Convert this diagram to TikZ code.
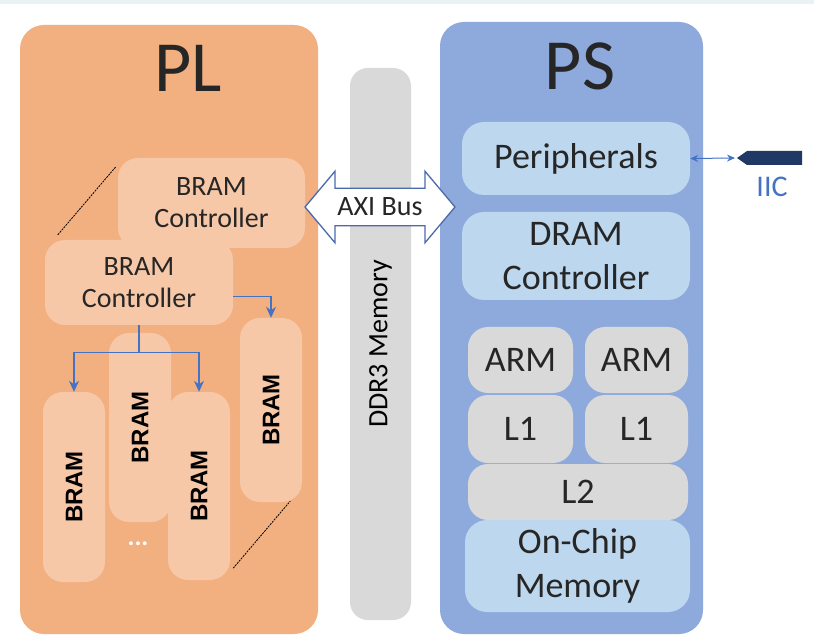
\documentclass[tikz,border=0pt]{standalone}
\usepackage{fontspec}
\setmainfont{Carlito}
\newfontfamily\bramfont{Liberation Sans}
\usetikzlibrary{arrows}
\usetikzlibrary{arrows.meta}
\usetikzlibrary{shapes.arrows}

\definecolor{plfill}{HTML}{F2AF80}
\definecolor{psfill}{HTML}{8EA9DB}
\definecolor{blockfill}{HTML}{F7C8A8}
\definecolor{memfill}{HTML}{BDD7EE}
\definecolor{cpufill}{HTML}{D9D9D9}
\definecolor{linkblue}{HTML}{4472C4}
\definecolor{busblue}{HTML}{4A6AAB}
\definecolor{iicnavy}{HTML}{203864}
\definecolor{topstrip}{HTML}{E9F3F3}

\begin{document}
\begin{tikzpicture}[x=1pt,y=-1pt,
  region/.style={rounded corners=24pt,inner sep=0},
  block/.style={fill=blockfill,rounded corners=20pt,inner sep=0,align=center,font=\fontsize{28}{32}\selectfont,text=black!85},
  bram/.style={fill=blockfill,rounded corners=20pt,inner sep=0,minimum width=62pt,font=\bramfont\bfseries\fontsize{24}{26}\selectfont},
  mem/.style={fill=memfill,rounded corners=22pt,inner sep=0,align=center,font=\fontsize{36}{44}\selectfont,text=black!85},
  cpu/.style={fill=cpufill,rounded corners=20pt,inner sep=0,align=center,font=\fontsize{36}{44}\selectfont,text=black!85},
  link/.style={draw=linkblue,line width=1.2pt},
  tip/.style={-{Stealth[length=11pt,width=10pt]}},
  guide/.style={dashed,line width=0.8pt,dash pattern=on 2pt off 1pt}]

  \fill[white] (0,0) rectangle (814,644);
  \fill[topstrip] (0,0) rectangle (814,4);

  \node[region,fill=plfill,minimum width=298pt,minimum height=609pt] (pl) at (169,329.5) {};
  \node[region,fill=psfill,minimum width=263pt,minimum height=612pt] (ps) at (571.5,328) {};
  \node[fill=cpufill,rounded corners=18pt,minimum width=61pt,minimum height=552pt,inner sep=0] (ddr) at (380.5,344)
    {\rotatebox{90}{\fontsize{28}{32}\selectfont DDR3 Memory}};

  \node[font=\fontsize{72}{80}\selectfont,text=black!85] (pltitle) at (188,68) {PL};
  \node[font=\fontsize{72}{80}\selectfont,text=black!85] (pstitle) at (580,66) {PS};

  \node[block,minimum width=187pt,minimum height=90pt] (ctrlback) at (211.5,203) {BRAM\\Controller};
  \node[block,minimum width=188pt,minimum height=85pt] (ctrlfront) at (139,282.5) {BRAM\\Controller};

  \node[bram,minimum height=190pt] (bram1) at (74,487) {\rotatebox{90}{BRAM}};
  \node[bram,minimum height=189pt] (bram2) at (140,427.5) {\rotatebox{90}{BRAM}};
  \node[bram,minimum height=188pt] (bram3) at (199,486) {\rotatebox{90}{BRAM}};
  \node[bram,minimum height=184pt] (bram4) at (271,410) {\rotatebox{90}{BRAM}};
  \node[text=white,font=\bfseries\fontsize{26}{28}\selectfont] (dots) at (138,544) {...};

  \draw[link] (ctrlfront.south) -- ++(0,27) coordinate (split);
  \draw[link,tip] (split) -| (bram1.north);
  \draw[link,tip] (split) -| (bram3.north);
  \draw[link,tip] ([yshift=-14pt]ctrlfront.east) -| (bram4.north);

  \draw[guide] ([shift={(13,-5)}]ctrlfront.north west) -- ([shift={(-2,9)}]ctrlback.north west);
  \draw[guide] ([shift={(3,-12)}]bram3.south east) -- ([shift={(-12,-1)}]bram4.south east);

  \node[double arrow,draw=busblue,line width=1.3pt,fill=white,minimum height=150pt,
    double arrow head extend=17pt,double arrow tip angle=100,inner xsep=2pt,inner ysep=9pt,
    font=\fontsize{28}{32}\selectfont,text=black!85] (axi) at (380,207) {AXI Bus};

  \node[mem,minimum width=228pt,minimum height=73pt] (periph) at (576,158.5) {Peripherals};
  \node[mem,minimum width=228pt,minimum height=88pt] (dram) at (576,256) {DRAM\\Controller};
  \node[cpu,minimum width=105pt,minimum height=66pt] (arm1) at (520.5,360) {ARM};
  \node[cpu,minimum width=103pt,minimum height=66pt] (arm2) at (636.5,360) {ARM};
  \node[cpu,minimum width=105pt,minimum height=68pt] (l1a) at (520.5,429) {L1};
  \node[cpu,minimum width=103pt,minimum height=68pt] (l1b) at (636.5,429) {L1};
  \node[cpu,minimum width=220pt,minimum height=56pt] (l2) at (578,492) {L2};
  \node[mem,minimum width=225pt,minimum height=92pt] (ocm) at (577.5,566) {On-Chip\\Memory};

  \coordinate (iic) at (737,158);
  \fill[iicnavy] (iic) -- ++(10,-7) -- ++(55,0) -- ++(0,14) -- ++(-55,0) -- cycle;
  \node[text=linkblue,font=\fontsize{30}{32}\selectfont] (iiclabel) at (772,187) {IIC};
  \draw[link,line width=1pt,{Stealth[length=8pt,width=7pt]}-{Stealth[length=8pt,width=7pt]}] (periph.east) -- ([xshift=-2pt]iic);
\end{tikzpicture}
\end{document}
